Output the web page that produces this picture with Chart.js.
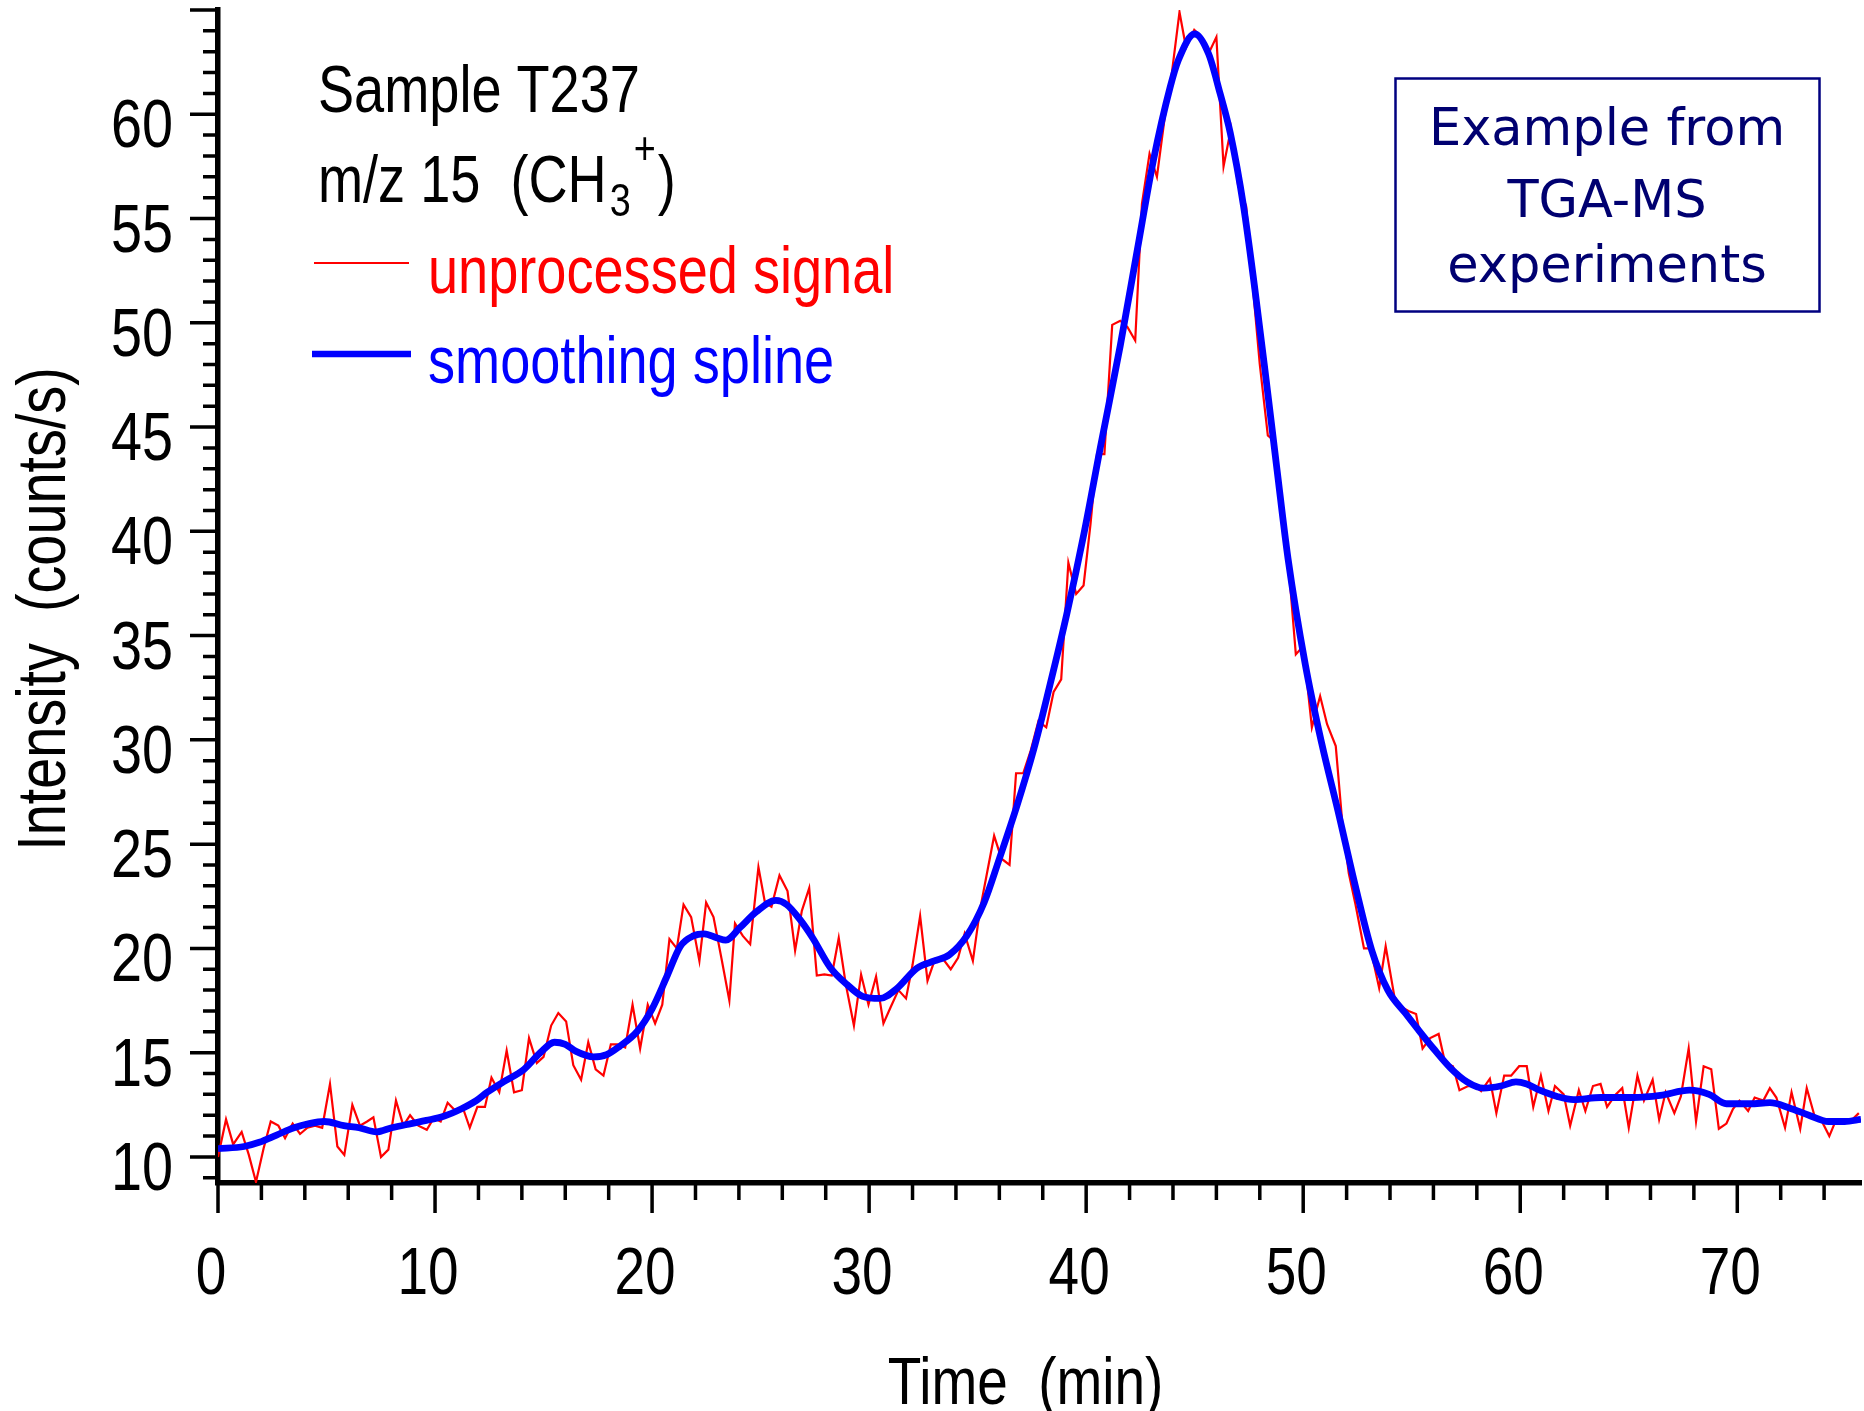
<!DOCTYPE html>
<html>
<head>
<meta charset="utf-8">
<script src="https://cdn.jsdelivr.net/npm/chart.js@4.4.1/dist/chart.umd.min.js"></script>
<style>
  html, body { margin: 0; padding: 0; background: #fff; }
  #wrap { width: 1864px; height: 1411px; position: relative; }
</style>
</head>
<body>
<div id="wrap"><canvas id="myChart"></canvas></div>
<script>
// unprocessed signal (time in min, counts/s)
const rawTime = [
  0.0, 0.37, 0.7, 1.09, 1.42, 1.75, 2.1, 2.43, 2.78, 3.09, 3.44, 3.78, 4.12, 4.47, 4.8, 5.16, 5.5, 5.82, 6.19, 6.54,
  6.87, 7.16, 7.51, 7.85, 8.2, 8.54, 8.85, 9.23, 9.62, 9.93, 10.26, 10.58, 10.95, 11.3, 11.6, 11.95, 12.3, 12.6, 12.96, 13.3,
  13.64, 14.0, 14.33, 14.69, 15.0, 15.35, 15.68, 16.04, 16.37, 16.73, 17.06, 17.4, 17.76, 18.1, 18.4, 18.76, 19.1, 19.45, 19.8, 20.14,
  20.47, 20.8, 21.14, 21.45, 21.8, 22.18, 22.49, 22.83, 23.2, 23.56, 23.82, 24.18, 24.52, 24.9, 25.2, 25.5, 25.87, 26.24, 26.59, 26.9,
  27.24, 27.59, 27.94, 28.28, 28.6, 28.93, 29.3, 29.63, 29.97, 30.32, 30.66, 31.0, 31.35, 31.7, 32.0, 32.35, 32.69, 33.04, 33.4, 33.76,
  34.1, 34.4, 34.78, 35.1, 35.43, 35.76, 36.1, 36.47, 36.77, 37.1, 37.45, 37.8, 38.16, 38.5, 38.85, 39.18, 39.54, 39.88, 40.2, 40.5,
  40.84, 41.2, 41.57, 41.9, 42.26, 42.57, 42.92, 43.26, 43.6, 43.95, 44.3, 44.6, 44.98, 45.33, 45.68, 46.0, 46.33, 46.67, 47.0, 47.37,
  47.7, 48.0, 48.37, 48.7, 49.0, 49.3, 49.66, 50.0, 50.4, 50.78, 51.1, 51.5, 51.8, 52.1, 52.4, 52.8, 53.1, 53.5, 53.8, 54.2,
  54.5, 54.85, 55.2, 55.5, 55.85, 56.24, 56.54, 56.9, 57.2, 57.6, 57.9, 58.2, 58.6, 58.9, 59.26, 59.58, 59.95, 60.3, 60.6, 60.95,
  61.3, 61.6, 62.0, 62.3, 62.7, 63.0, 63.35, 63.7, 64.0, 64.4, 64.7, 65.0, 65.4, 65.7, 66.1, 66.4, 66.7, 67.1, 67.4, 67.76,
  68.1, 68.45, 68.8, 69.15, 69.5, 69.8, 70.1, 70.5, 70.8, 71.2, 71.5, 71.8, 72.2, 72.5, 72.9, 73.2, 73.55, 73.9, 74.24, 74.56,
  74.9, 75.25, 75.6
];
const rawCounts = [
  10.0, 11.8, 10.6, 11.2, 10.1, 8.8, 10.4, 11.7, 11.5, 10.9, 11.6, 11.1, 11.4, 11.5, 11.4, 13.5, 10.5, 10.1, 12.5, 11.5,
  11.7, 11.9, 10.0, 10.35, 12.7, 11.5, 12.0, 11.5, 11.3, 11.85, 11.7, 12.6, 12.2, 12.3, 11.4, 12.4, 12.4, 13.8, 13.1, 15.1,
  13.1, 13.2, 15.7, 14.5, 14.8, 16.3, 16.9, 16.5, 14.4, 13.7, 15.5, 14.2, 13.9, 15.4, 15.4, 15.25, 17.3, 15.2, 17.3, 16.4,
  17.3, 20.45, 20.0, 22.1, 21.5, 19.4, 22.2, 21.5, 19.5, 17.5, 21.2, 20.6, 20.2, 23.9, 22.2, 22.0, 23.5, 22.75, 19.9, 21.8,
  22.9, 18.7, 18.75, 18.7, 20.5, 18.25, 16.3, 18.75, 17.3, 18.65, 16.4, 17.2, 18.0, 17.6, 19.2, 21.55, 18.45, 19.5, 19.5, 19.0,
  19.55, 20.7, 19.4, 21.8, 23.6, 25.4, 24.3, 24.0, 28.4, 28.4, 29.5, 30.9, 30.6, 32.3, 32.9, 38.5, 37.0, 37.4, 40.35, 43.7,
  43.7, 49.9, 50.1, 49.8, 49.15, 55.7, 58.1, 57.0, 59.7, 62.0, 64.9, 63.2, 64.05, 63.7, 63.0, 63.7, 57.5, 59.3, 56.6, 55.6,
  51.5, 48.0, 44.6, 44.3, 41.5, 38.7, 34.1, 34.5, 30.6, 32.1, 30.75, 29.7, 26.05, 23.6, 22.15, 20.0, 20.0, 18.1, 20.1, 17.7,
  17.2, 17.0, 16.85, 15.2, 15.7, 15.9, 14.5, 14.35, 13.2, 13.4, 13.4, 13.15, 13.75, 12.1, 13.9, 13.9, 14.35, 14.35, 12.4, 13.9,
  12.2, 13.4, 13.0, 11.5, 13.2, 12.2, 13.4, 13.5, 12.4, 13.0, 13.3, 11.4, 13.9, 12.7, 13.7, 11.8, 13.1, 12.1, 12.9, 15.2,
  11.7, 14.35, 14.2, 11.35, 11.6, 12.3, 12.7, 12.2, 12.85, 12.7, 13.3, 12.85, 11.4, 13.1, 11.35, 13.3, 12.0, 11.7, 11.0, 11.8,
  11.75, 11.75, 12.1
];

// smoothing spline
const splineTime = [
  0, 1.2, 1.9, 2.7, 3.5, 4.2, 4.9, 5.8, 6.5, 7.3, 8.0, 8.9, 9.6, 10.4, 11.2, 11.9, 12.4, 13.15, 14.1, 14.85,
  15.5, 16.0, 16.5, 17.3, 17.9, 18.5, 19.3, 20.0, 20.7, 21.3, 21.9, 22.4, 23.0, 23.4, 24.05, 24.8, 25.7, 26.2, 26.8, 27.4,
  28.2, 29.0, 29.7, 30.5, 31.3, 32.2, 33.0, 33.7, 34.5, 35.3, 36.0, 36.8, 37.6, 38.3, 39.1, 39.9, 40.65, 41.57, 42.34, 43.1,
  43.87, 44.25, 45.0, 45.64, 46.17, 46.64, 47.25, 47.75, 48.3, 48.8, 49.3, 50.1, 50.86, 51.6, 52.4, 53.16, 53.9, 54.7, 55.3, 56.0,
  56.8, 57.55, 58.3, 59.1, 59.8, 60.3, 60.9, 61.7, 62.45, 63.7, 65.2, 66.45, 67.8, 68.7, 69.5, 70.6, 71.5, 72.4, 73.3, 74.2,
  74.95, 75.7
];
const splineCounts = [
  10.4, 10.5, 10.7, 11.05, 11.4, 11.6, 11.7, 11.5, 11.4, 11.2, 11.4, 11.6, 11.75, 11.95, 12.3, 12.7, 13.1, 13.6, 14.2, 15.0,
  15.5, 15.4, 15.06, 14.8, 14.9, 15.3, 16.0, 17.1, 18.7, 20.1, 20.6, 20.7, 20.5, 20.4, 21.0, 21.75, 22.3, 22.1, 21.4, 20.5,
  19.1, 18.25, 17.7, 17.6, 18.1, 19.05, 19.4, 19.7, 20.6, 22.2, 24.3, 26.8, 29.6, 32.5, 36.0, 39.9, 44.0, 48.9, 53.4, 57.8,
  61.3, 62.6, 63.85, 62.9, 61.0, 59.1, 55.6, 51.8, 47.2, 42.9, 38.7, 33.6, 29.8, 26.6, 23.0, 19.9, 18.0, 16.9, 16.1, 15.2,
  14.25, 13.6, 13.3, 13.4, 13.6, 13.5, 13.2, 12.9, 12.75, 12.85, 12.85, 12.95, 13.2, 13.0, 12.55, 12.55, 12.6, 12.35, 12.0, 11.7,
  11.7, 11.8
];

const xTicks = [0, 10, 20, 30, 40, 50, 60, 70];
const yTicks = [10, 15, 20, 25, 30, 35, 40, 45, 50, 55, 60];

// the original uses a condensed face; squeeze Liberation Sans horizontally
const SANS = '"Liberation Sans", Arial, sans-serif';
const SQUEEZE = 0.82;

function narrowText(ctx, text, x, y, size, color, align, rot) {
  ctx.save();
  ctx.translate(x, y);
  if (rot) ctx.rotate(rot);
  ctx.scale(SQUEEZE, 1);
  ctx.font = size + 'px ' + SANS;
  ctx.fillStyle = color;
  ctx.textAlign = align || 'left';
  ctx.textBaseline = 'alphabetic';
  ctx.fillText(text, 0, 0);
  const w = ctx.measureText(text).width * SQUEEZE;
  ctx.restore();
  return w;
}

// minor + major tick marks and tick labels
const axisDecor = {
  id: 'axisDecor',
  afterDraw(chart) {
    const ctx = chart.ctx;
    const xs = chart.scales.x, ys = chart.scales.y;
    const area = chart.chartArea;
    ctx.save();
    ctx.strokeStyle = '#000';
    ctx.lineWidth = 3.5;
    ctx.beginPath();
    for (let v = Math.ceil(ys.min); v <= ys.max; v++) {
      const py = ys.getPixelForValue(v);
      const len = v % 5 === 0 ? 28 : 15;
      ctx.moveTo(area.left - len, py);
      ctx.lineTo(area.left, py);
    }
    for (let v = 0; v <= xs.max; v += 2) {
      const px = xs.getPixelForValue(v);
      const len = v % 10 === 0 ? 30 : 17;
      ctx.moveTo(px, area.bottom);
      ctx.lineTo(px, area.bottom + len);
    }
    ctx.stroke();
    ctx.restore();

    yTicks.forEach(v => {
      narrowText(ctx, String(v), area.left - 45, ys.getPixelForValue(v) + 33, 68, '#000', 'right');
    });
    xTicks.forEach(v => {
      narrowText(ctx, String(v), xs.getPixelForValue(v) - 7, 1294, 67, '#000', 'center');
    });

    // axis titles
    narrowText(ctx, 'Time  (min)', (area.left + area.right) / 2 - 14, 1404, 67, '#000', 'center');
    narrowText(ctx, 'Intensity  (counts/s)', 65, 609, 68, '#000', 'center', -Math.PI / 2);
  }
};

const annotations = {
  id: 'annotations',
  afterDraw(chart) {
    const ctx = chart.ctx;
    narrowText(ctx, 'Sample T237', 318, 112, 66, '#000');
    let x = 318 + narrowText(ctx, 'm/z 15  (CH', 318, 202, 66, '#000') + 3;
    x += narrowText(ctx, '3', x, 216, 46, '#000') + 3;
    x += narrowText(ctx, '+', x, 164, 46, '#000') + 2;
    narrowText(ctx, ')', x, 202, 66, '#000');

    ctx.save();
    // legend
    ctx.strokeStyle = '#ff0000';
    ctx.lineWidth = 2;
    ctx.beginPath(); ctx.moveTo(314, 263); ctx.lineTo(409, 263); ctx.stroke();
    ctx.strokeStyle = '#0000ff';
    ctx.lineWidth = 6.5;
    ctx.beginPath(); ctx.moveTo(312, 354); ctx.lineTo(411, 354); ctx.stroke();
    narrowText(ctx, 'unprocessed signal', 428, 293, 66, '#ff0000');
    narrowText(ctx, 'smoothing spline', 428, 383, 66, '#0000ff');

    // note box
    ctx.strokeStyle = '#000080';
    ctx.lineWidth = 2.5;
    ctx.strokeRect(1395.5, 78.5, 424, 233);
    ctx.fillStyle = '#000070';
    ctx.textAlign = 'center';
    ctx.textBaseline = 'alphabetic';
    ctx.font = '51px "DejaVu Sans", sans-serif';
    ctx.fillText('Example from', 1607, 145);
    ctx.fillText('TGA-MS', 1607, 217);
    ctx.fillText('experiments', 1607, 282);
    ctx.restore();
  }
};

const noPad = scale => {
  scale.paddingTop = 0; scale.paddingBottom = 0;
  scale.paddingLeft = 0; scale.paddingRight = 0;
};

new Chart(document.getElementById('myChart'), {
  type: 'line',
  data: {
    datasets: [{
      label: 'smoothing spline',
      data: splineTime.map((t, i) => ({x: t, y: splineCounts[i]})),
      borderColor: '#0000ff',
      borderWidth: 6.8,
      pointRadius: 0,
      cubicInterpolationMode: 'monotone',
      fill: false
    }, {
      label: 'unprocessed signal',
      data: rawTime.map((t, i) => ({x: t, y: rawCounts[i]})),
      borderColor: '#ff0000',
      borderWidth: 2.2,
      pointRadius: 0,
      tension: 0,
      fill: false
    }]
  },
  plugins: [axisDecor, annotations],
  options: {
    responsive: true,
    maintainAspectRatio: false,
    animation: false,
    layout: {padding: {top: 10, right: 3, left: 0, bottom: 0}},
    plugins: {
      legend: {display: false},
      tooltip: {enabled: false},
      title: {display: false}
    },
    scales: {
      x: {
        type: 'linear',
        min: 0,
        max: 75.7,
        afterFit: scale => { scale.height = 228; noPad(scale); },
        afterBuildTicks: scale => { scale.ticks = xTicks.map(v => ({value: v})); },
        grid: {drawOnChartArea: false, drawTicks: false},
        border: {display: true, color: '#000', width: 5.5},
        ticks: {display: false}
      },
      y: {
        type: 'linear',
        min: 8.75,
        max: 65,
        afterFit: scale => { scale.width = 218; noPad(scale); },
        afterBuildTicks: scale => { scale.ticks = yTicks.map(v => ({value: v})); },
        grid: {drawOnChartArea: false, drawTicks: false},
        border: {display: true, color: '#000', width: 5.5},
        ticks: {display: false}
      }
    }
  }
});
</script>
</body>
</html>
